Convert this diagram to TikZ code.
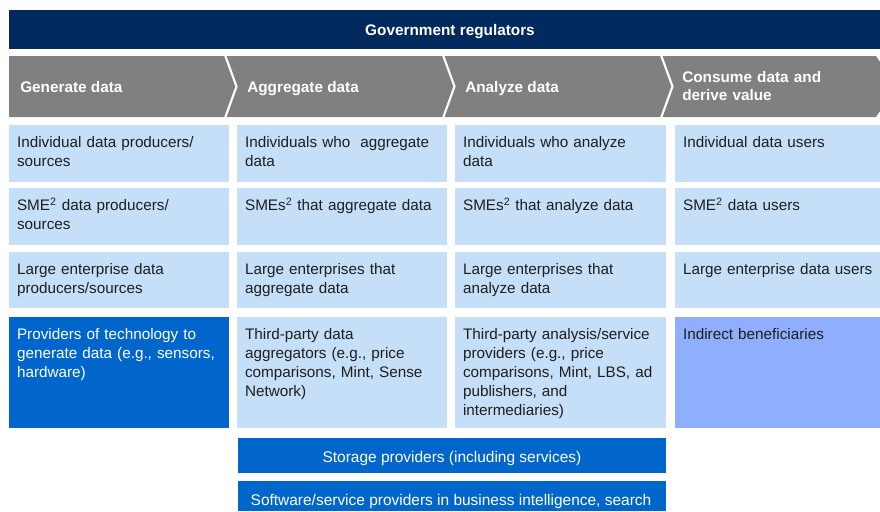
\documentclass[tikz,border=0pt]{standalone}
\usepackage{fontspec}
\setmainfont{Liberation Sans}
\definecolor{navybar}{HTML}{002A5E}
\definecolor{stepgray}{HTML}{808080}
\definecolor{cellblue}{HTML}{C6DFF8}
\definecolor{darkblue}{HTML}{0066CC}
\definecolor{periwinkle}{HTML}{8FAEFE}
\definecolor{celltxt}{HTML}{1E1E1E}
\newcommand{\supr}[1]{\smash{\textsuperscript{#1}}}
\tikzset{
  celltext/.style={anchor=north west,inner sep=0pt,align=left,text width=155pt,
    font=\fontsize{11.45}{14.25}\selectfont,execute at begin node=\strut},
  headtext/.style={inner sep=0pt,text=white,font=\bfseries\fontsize{11.5}{13.5}\selectfont},
  bartext/.style={anchor=base,inner sep=0pt,text=white,font=\fontsize{11.6}{14.25}\selectfont},
  sepline/.style={white,line width=1.6pt,line join=miter}
}
\begin{document}
\begin{tikzpicture}[x=0.75pt,y=-0.75pt]
\useasboundingbox (0,0) rectangle (880,511);
% ---- regulators bar ----
\fill[navybar] (9,10) rectangle (880,49);
\node[headtext,anchor=base] (regulators) at (450,35) {Government regulators};
% ---- value chain chevrons ----
\fill[stepgray] (9,56) -- (876,56) -- (880,62) -- (880,111) -- (876,117) -- (9,117) -- cycle;
\foreach \sx in {225,443,661} \draw[sepline] (\sx,55) -- (\sx+11.5,86.5) -- (\sx,118);
\node[headtext,anchor=base west] (generate) at (20,92) {Generate data};
\node[headtext,anchor=base west] (aggregate) at (247,92) {Aggregate data};
\node[headtext,anchor=base west] (analyze) at (465,92) {Analyze data};
\node[headtext,anchor=north west,align=left,text width=150pt,execute at begin node=\strut]
  (consume) at (682,70) {Consume data and\\derive value};
% ---- participant cells ----
\foreach \nm/\xa/\ya/\xb/\yb/\fc/\tc/\txt in {
  gen1/9/125/229/182/cellblue/celltxt/{Individual data producers/\\sources},
  agg1/237/125/447/182/cellblue/celltxt/{Individuals who~ aggregate\\data},
  ana1/455/125/666/182/cellblue/celltxt/{Individuals who analyze\\data},
  con1/675/125/880/182/cellblue/celltxt/{Individual data users},
  gen2/9/188/229/245/cellblue/celltxt/{SME\supr{2} data producers/\\sources},
  agg2/237/188/447/245/cellblue/celltxt/{SMEs\supr{2} that aggregate data},
  ana2/455/188/666/245/cellblue/celltxt/{SMEs\supr{2} that analyze data},
  con2/675/188/880/245/cellblue/celltxt/{SME\supr{2} data users},
  gen3/9/252/229/308/cellblue/celltxt/{Large enterprise data\\producers/sources},
  agg3/237/252/447/308/cellblue/celltxt/{Large enterprises that\\aggregate data},
  ana3/455/252/666/308/cellblue/celltxt/{Large enterprises that\\analyze data},
  con3/675/252/880/308/cellblue/celltxt/{Large enterprise data users},
  gen4/9/317/229/428/darkblue/white/{Providers of technology to\\generate data (e.g., sensors,\\hardware)},
  agg4/237/317/447/428/cellblue/celltxt/{Third-party data\\aggregators (e.g., price\\comparisons, Mint, Sense\\Network)},
  ana4/455/317/666/428/cellblue/celltxt/{Third-party analysis/service\\providers (e.g., price\\comparisons, Mint, LBS, ad\\publishers, and\\intermediaries)},
  con4/675/317/880/428/periwinkle/celltxt/{Indirect beneficiaries}%
}{
  \fill[\fc] (\xa,\ya) rectangle (\xb,\yb);
  \node[celltext,text=\tc] (\nm) at (\xa+7.8,\ya+9.2) {\txt};
}
% ---- cross-cutting providers ----
\fill[darkblue] (238,438) rectangle (666,473);
\node[bartext] (storage) at (452,462) {Storage providers (including services)};
\fill[darkblue] (238,481) rectangle (666,511);
\node[bartext] (software) at (451,505) {Software/service providers in business intelligence, search};
\end{tikzpicture}
\end{document}
